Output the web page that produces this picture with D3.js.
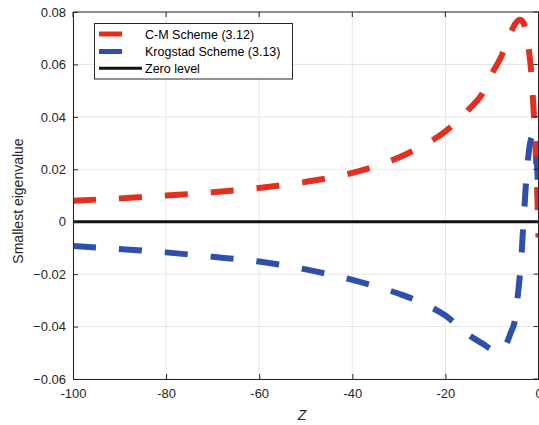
<!DOCTYPE html>
<html>
<head>
<meta charset="utf-8">
<script src="https://cdn.jsdelivr.net/npm/d3@7"></script>
<style>
  body { margin: 0; background: #fff; }
  svg { display: block; font-family: "Liberation Sans", Arial, Helvetica, sans-serif; }
</style>
</head>
<body>
<svg width="539" height="425"></svg>
<script>
// values
const zCM = [-100, -90, -80, -70, -60, -50, -40, -30, -25, -20, -15, -12, -10, -8, -6, -5, -4, -3.2, -2.5, -2, -1.6, -1.3, -1, -0.7, -0.45, -0.25, -0.1, 0];
const cmValues = [0.0080, 0.0089, 0.0100, 0.0112, 0.0129, 0.0152, 0.0186, 0.0245, 0.0288, 0.0345, 0.0428, 0.0490, 0.0565, 0.0630, 0.0720, 0.0755, 0.0770, 0.0757, 0.0705, 0.0645, 0.0580, 0.0500, 0.0410, 0.0310, 0.0200, 0.0100, 0.0000, -0.0060];

const zKrog = [-100, -90, -80, -70, -60, -50, -40, -30, -25, -20, -15, -12, -10, -8.5, -7, -6, -5, -4.5, -4, -3.6, -3.3, -3, -2.7, -2.3, -1.8, -1.3, -0.8, -0.4, -0.15, 0];
const krogValues = [-0.0093, -0.0104, -0.0117, -0.0134, -0.0152, -0.0182, -0.0222, -0.0275, -0.0310, -0.0358, -0.0432, -0.0465, -0.0488, -0.0497, -0.0470, -0.0425, -0.0370, -0.0290, -0.0203, -0.0115, -0.0020, 0.0060, 0.0145, 0.0230, 0.0300, 0.0325, 0.0310, 0.0250, 0.0150, 0.0080];

const xTicks = [-100, -80, -60, -40, -20, 0];
const yTicks = [-0.06, -0.04, -0.02, 0, 0.02, 0.04, 0.06, 0.08];
const legendLabels = ['C-M Scheme (3.12)', 'Krogstad Scheme (3.13)', 'Zero level'];

const red = '#e32f1f', blue = '#2e4fab', ink = '#262626';
const pLeft = 73, pRight = 538.5, pTop = 12, pBottom = 379;

const svg = d3.select('svg');

const x = d3.scaleLinear().domain([-100, 0]).range([pLeft, pRight]);
const y = d3.scaleLinear().domain([-0.06, 0.08]).range([pBottom, pTop]);

// grid
svg.append('g')
  .selectAll('line')
  .data(xTicks)
  .enter()
  .append('line')
  .attr('x1', d => x(d)).attr('x2', d => x(d))
  .attr('y1', pTop).attr('y2', pBottom)
  .attr('stroke', '#e6e6e6').attr('stroke-width', 1);

svg.append('g')
  .selectAll('line')
  .data(yTicks)
  .enter()
  .append('line')
  .attr('x1', pLeft).attr('x2', pRight)
  .attr('y1', d => y(d)).attr('y2', d => y(d))
  .attr('stroke', '#e6e6e6').attr('stroke-width', 1);

// curves
svg.append('defs').append('clipPath').attr('id', 'plot')
  .append('rect')
  .attr('x', pLeft).attr('y', pTop)
  .attr('width', pRight - pLeft).attr('height', pBottom - pTop);

const line = d3.line()
  .x(d => x(d[0]))
  .y(d => y(d[1]))
  .curve(d3.curveMonotoneX);

const plot = svg.append('g').attr('clip-path', 'url(#plot)');

plot.append('path')
  .datum(d3.zip(zCM, cmValues))
  .attr('d', line)
  .attr('fill', 'none')
  .attr('stroke', red)
  .attr('stroke-width', 6)
  .attr('stroke-dasharray', '23,23');

plot.append('path')
  .datum(d3.zip(zKrog, krogValues))
  .attr('d', line)
  .attr('fill', 'none')
  .attr('stroke', blue)
  .attr('stroke-width', 6)
  .attr('stroke-dasharray', '23,23');

plot.append('line')
  .attr('x1', x(-100)).attr('x2', x(0))
  .attr('y1', y(0)).attr('y2', y(0))
  .attr('stroke', '#111').attr('stroke-width', 3);

// axes
const xAxis = svg.append('g')
  .attr('transform', `translate(0,${pBottom})`)
  .call(d3.axisBottom(x).tickValues(xTicks).tickSizeInner(-5).tickSizeOuter(0).tickPadding(10)
    .tickFormat(d3.format('d')));

const yAxis = svg.append('g')
  .attr('transform', `translate(${pLeft},0)`)
  .call(d3.axisLeft(y).tickValues(yTicks).tickSizeInner(-5).tickSizeOuter(0).tickPadding(7)
    .tickFormat(d => d === 0 ? '0' : d3.format('.2f')(d)));

[xAxis, yAxis].forEach(g => {
  g.select('.domain').attr('stroke', ink).attr('stroke-width', 1);
  g.selectAll('.tick line').attr('stroke', ink);
  g.selectAll('.tick text').attr('fill', ink).style('font-size', '13px');
});
xAxis.selectAll('.tick text').text(d => d === 0 ? '0' : d);

// top and right box edges
svg.append('line')
  .attr('x1', pLeft).attr('x2', pRight).attr('y1', pTop).attr('y2', pTop)
  .attr('stroke', ink).attr('stroke-width', 1);
svg.append('line')
  .attr('x1', pRight).attr('x2', pRight).attr('y1', pTop).attr('y2', pBottom)
  .attr('stroke', ink).attr('stroke-width', 1);
svg.append('g')
  .selectAll('line')
  .data(xTicks)
  .enter()
  .append('line')
  .attr('x1', d => x(d)).attr('x2', d => x(d))
  .attr('y1', pTop).attr('y2', pTop + 5)
  .attr('stroke', ink);
svg.append('g')
  .selectAll('line')
  .data(yTicks)
  .enter()
  .append('line')
  .attr('x1', pRight - 5).attr('x2', pRight)
  .attr('y1', d => y(d)).attr('y2', d => y(d))
  .attr('stroke', ink);

// axis labels
svg.append('text')
  .attr('x', 302).attr('y', 420)
  .attr('text-anchor', 'middle')
  .attr('fill', ink)
  .style('font-size', '14px')
  .style('font-style', 'italic')
  .text('Z');

svg.append('text')
  .attr('transform', 'translate(23,201) rotate(-90)')
  .attr('text-anchor', 'middle')
  .attr('fill', ink)
  .style('font-size', '14px')
  .text('Smallest eigenvalue');

// legend
const legend = svg.append('g');
legend.append('rect')
  .attr('x', 94.5).attr('y', 23.5)
  .attr('width', 198).attr('height', 55.5)
  .attr('fill', '#fff')
  .attr('stroke', ink).attr('stroke-width', 1);

const legendColors = [red, blue, '#111'];
const legendRows = [34, 51.5, 68.3];

legend.selectAll('line.sample')
  .data(legendLabels)
  .enter()
  .append('line')
  .attr('class', 'sample')
  .attr('x1', 99)
  .attr('x2', (d, i) => i === 2 ? 142 : 122)
  .attr('y1', (d, i) => legendRows[i])
  .attr('y2', (d, i) => legendRows[i])
  .attr('stroke', (d, i) => legendColors[i])
  .attr('stroke-width', (d, i) => i === 2 ? 3 : 5);

legend.selectAll('text')
  .data(legendLabels)
  .enter()
  .append('text')
  .attr('x', 145)
  .attr('y', (d, i) => legendRows[i] + 4.5)
  .attr('fill', '#000')
  .style('font-size', '12.5px')
  .text(d => d);
</script>
</body>
</html>
